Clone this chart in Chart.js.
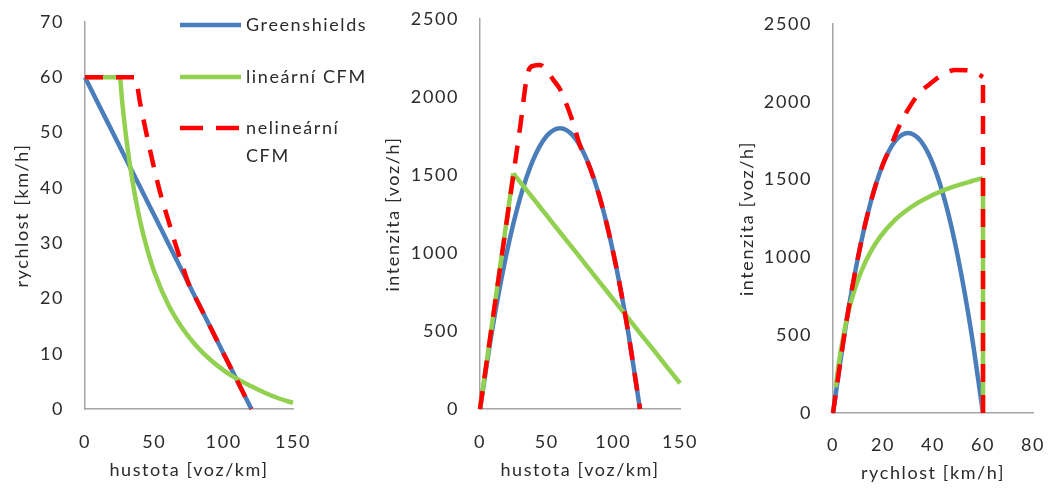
<!DOCTYPE html>
<html lang="cs">
<head>
<meta charset="utf-8">
<title>Fundamentální diagramy</title>
<script src="https://cdn.jsdelivr.net/npm/chart.js@4/dist/chart.umd.min.js"></script>
<style>
  html, body { margin: 0; padding: 0; background: #fff; }
  #wrap { position: relative; width: 1049px; height: 491px; overflow: hidden; }
  .panel { position: absolute; top: 0; height: 491px; }
  #p1 { left: 0; width: 380px; }
  #p2 { left: 380px; width: 320px; }
  #p3 { left: 700px; width: 349px; }
</style>
</head>
<body>
<div id="wrap">
  <div class="panel" id="p1"><canvas id="c1"></canvas></div>
  <div class="panel" id="p2"><canvas id="c2"></canvas></div>
  <div class="panel" id="p3"><canvas id="c3"></canvas></div>
</div>
<script>
// Greenshields
const hustotaGS = [0, 10, 20, 30, 40, 50, 60, 70, 80, 90, 100, 110, 120];
const rychlostGS = [60, 55, 50, 45, 40, 35, 30, 25, 20, 15, 10, 5, 0];
const intenzitaGS = [0, 550, 1000, 1350, 1600, 1750, 1800, 1750, 1600, 1350, 1000, 550, 0];

// lineární CFM
const hustotaLin = [0, 25, 27, 30, 33, 36, 40, 45, 50, 60, 70, 80, 90, 100, 110, 120, 130, 140, 150];
const rychlostLin = [60, 60, 55.1, 48.5, 43.2, 38.7, 33.7, 28.8, 24.8, 18.9, 14.7, 11.5, 9, 7, 5.4, 4.1, 2.9, 1.9, 1.1];
const intenzitaLin = [0, 1510, 1488, 1456, 1424, 1392, 1349, 1295, 1241, 1133, 1026, 918, 810, 703, 595, 487, 380, 272, 165];

// nelineární CFM
const hustotaNl = [0, 10, 20, 30, 36, 40, 45, 50, 55, 60, 65, 70, 75, 80, 90, 100, 110, 120];
const rychlostNl = [60, 60, 60, 60, 60, 55, 49, 43.4, 38.4, 34.2, 30, 26.1, 22.5, 20, 15, 10, 5, 0];
const intenzitaNl = [0, 600, 1200, 1800, 2160, 2200, 2205, 2170, 2110, 2050, 1950, 1830, 1690, 1600, 1350, 1000, 550, 0];

// popisky os
const osaHustota = 'hustota [voz/km]';
const osaRychlost = 'rychlost [km/h]';
const osaIntenzita = 'intenzita [voz/h]';
const legenda = ['Greenshields', 'lineární CFM', ['nelineární', 'CFM']];

const MODRA = '#4a7ebb';
const ZELENA = '#92d050';
const CERVENA = '#ff0000';
const TEXT = '#2b2b2b';
const PISMO = 'Lato, "Open Sans", sans-serif';

Chart.defaults.font.family = PISMO;
Chart.defaults.font.size = 18;
Chart.defaults.color = TEXT;

// trochu širší proklad písmen u všech popisků
Chart.register({
    id: 'prokladPisma',
    beforeUpdate(chart) { chart.ctx.letterSpacing = '1.6px'; },
    beforeDraw(chart) { chart.ctx.letterSpacing = '1.6px'; }
});

// dvojice [x, y] -> body pro Chart.js, volitelně jen úsek a/nebo obráceně
function body(xs, ys, od = 0, po = xs.length - 1, obratit = false) {
    const out = [];
    for (let i = od; i <= po; i++) out.push({ x: xs[i], y: ys[i] });
    return obratit ? out.reverse() : out;
}

function cara(data, barva, extra = {}) {
    return Object.assign({
        data: data,
        borderColor: barva,
        borderWidth: 4.5,
        pointRadius: 0,
        showLine: true,
        fill: false,
        cubicInterpolationMode: 'monotone',
        borderJoinStyle: 'round',
        clip: 6
    }, extra);
}

const rovne = { cubicInterpolationMode: 'default', tension: 0 };
const carkovane = { borderDash: [18, 13] };

// osa s pevnou šířkou/výškou, aby plocha grafu seděla přesně
function osa(min, max, krok, titulek, nast) {
    return {
        type: 'linear',
        min: min,
        max: max,
        ticks: {
            stepSize: krok,
            padding: nast.tickPad,
            callback: v => String(v)
        },
        grid: { display: false, drawTicks: false },
        border: { display: true, color: '#a6a6a6', width: 1.5 },
        title: { display: true, text: titulek, padding: nast.titlePad },
        afterFit: s => {
            if (s.isHorizontal()) {
                s.height = nast.size;
                s.paddingLeft = 0;
                s.paddingRight = 0;
            } else {
                s.width = nast.size;
                s.paddingTop = 0;
                s.paddingBottom = 0;
            }
        }
    };
}

const legendaPlugin = {
    id: 'legenda',
    afterDraw(chart) {
        const ctx = chart.ctx;
        const radky = [25, 77, 128];
        const barvy = [MODRA, ZELENA, CERVENA];
        ctx.save();
        ctx.font = '18px ' + PISMO;
        ctx.fillStyle = TEXT;
        ctx.textBaseline = 'middle';
        legenda.forEach((text, i) => {
            const y = radky[i];
            ctx.beginPath();
            ctx.lineWidth = 4.5;
            ctx.strokeStyle = barvy[i];
            ctx.setLineDash(i === 2 ? [23, 13] : []);
            ctx.moveTo(180, y);
            ctx.lineTo(241, y);
            ctx.stroke();
            const radkyTextu = Array.isArray(text) ? text : [text];
            radkyTextu.forEach((t, j) => ctx.fillText(t, 246, y + j * 28));
        });
        ctx.restore();
    }
};

function zakladniVolby(padding, osaX, osaY) {
    return {
        responsive: true,
        maintainAspectRatio: false,
        animation: false,
        layout: { padding: padding },
        plugins: { legend: { display: false }, tooltip: { enabled: false } },
        scales: { x: osaX, y: osaY }
    };
}

function kresli() {
    // rychlost – hustota
    new Chart(document.getElementById('c1'), {
        type: 'scatter',
        data: {
            datasets: [
                cara(body(hustotaNl, rychlostNl), CERVENA, Object.assign({ order: 0 }, carkovane)),
                cara(body(hustotaLin, rychlostLin), ZELENA, { order: 1 }),
                cara(body(hustotaGS, rychlostGS), MODRA, { order: 2 })
            ]
        },
        options: zakladniVolby(
            { left: 0, top: 22, right: 87, bottom: 0 },
            osa(0, 150, 50, osaHustota, { size: 82, tickPad: 22, titlePad: { top: 0, bottom: 10 } }),
            osa(0, 70, 10, osaRychlost, { size: 85, tickPad: 21, titlePad: { top: 11, bottom: 0 } })
        ),
        plugins: [legendaPlugin]
    });

    // intenzita – hustota
    new Chart(document.getElementById('c2'), {
        type: 'scatter',
        data: {
            datasets: [
                cara(body(hustotaNl, intenzitaNl), CERVENA, Object.assign({ order: 0 }, carkovane)),
                cara(body(hustotaLin, intenzitaLin, 0, 1), ZELENA, Object.assign({ order: 1 }, rovne)),
                cara(body(hustotaLin, intenzitaLin, 1), ZELENA, { order: 1 }),
                cara(body(hustotaGS, intenzitaGS), MODRA, { order: 2 })
            ]
        },
        options: zakladniVolby(
            { left: 0, top: 19, right: 20, bottom: 0 },
            osa(0, 150, 50, osaHustota, { size: 82, tickPad: 22, titlePad: { top: 0, bottom: 10 } }),
            osa(0, 2500, 500, osaIntenzita, { size: 100, tickPad: 21, titlePad: { top: 2, bottom: 0 } })
        )
    });

    // intenzita – rychlost
    new Chart(document.getElementById('c3'), {
        type: 'scatter',
        data: {
            datasets: [
                cara(body(rychlostNl, intenzitaNl, 0, 4), CERVENA, Object.assign({ order: 0 }, carkovane, rovne)),
                cara(body(rychlostNl, intenzitaNl, 4, rychlostNl.length - 1, true), CERVENA, Object.assign({ order: 0 }, carkovane)),
                cara(body(rychlostLin, intenzitaLin, 0, 1), ZELENA, Object.assign({ order: 1 }, rovne)),
                cara(body(rychlostLin, intenzitaLin, 1, rychlostLin.length - 1, true), ZELENA, { order: 1 }),
                cara(body(rychlostGS, intenzitaGS, 0, rychlostGS.length - 1, true), MODRA, { order: 2 })
            ]
        },
        options: zakladniVolby(
            { left: 0, top: 24, right: 16, bottom: 0 },
            osa(0, 80, 20, osaRychlost, { size: 78, tickPad: 21, titlePad: { top: 0, bottom: 7 } }),
            osa(0, 2500, 500, osaIntenzita, { size: 133, tickPad: 21, titlePad: { top: 36, bottom: 0 } })
        )
    });
}

if (document.fonts && document.fonts.load) {
    document.fonts.load('18px Lato').then(kresli, kresli);
} else {
    kresli();
}
</script>
</body>
</html>
